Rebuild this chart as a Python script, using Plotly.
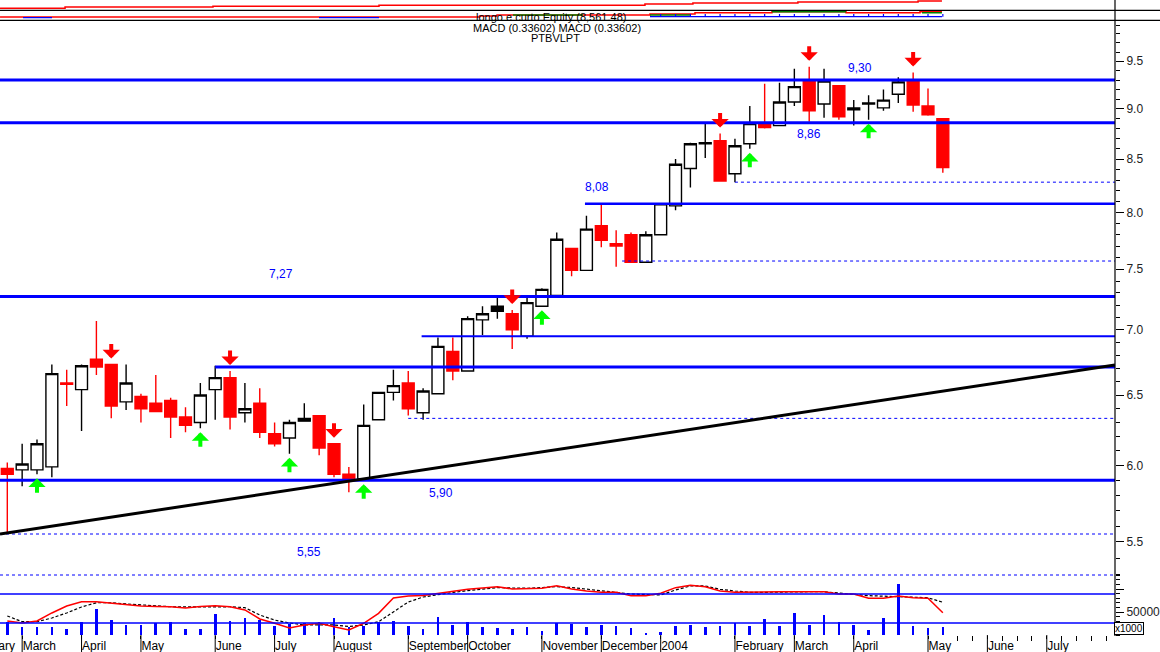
import numpy as np
import plotly.graph_objects as go

# ---------------- DATA ----------------
# weekly bars, week index 0 = week ending 28 Feb 2003 (Fridays)
opens = [5.98, 5.97, 5.97, 5.99, 6.59, 6.54, 6.77, 6.73, 6.45, 6.49,
         6.44, 6.46, 6.34, 6.30, 6.54, 6.63, 6.37, 6.44, 6.22, 6.19,
         6.33, 6.35, 6.15, 5.94, 5.91, 6.32, 6.52, 6.59, 6.37, 6.51,
         6.83, 6.68, 7.08, 7.19, 7.13, 6.95, 7.19, 7.28, 7.68, 7.49,
         7.88, 7.72, 7.80, 7.56, 7.80, 8.06, 8.41, 8.65, 8.68, 8.36,
         8.65, 8.85, 8.83, 9.07, 9.29, 9.05, 9.24, 8.99, 9.06, 9.01,
         9.15, 9.29, 9.03, 8.90]
highs = [6.02, 6.15, 6.18, 6.73, 6.69, 6.73, 7.07, 6.73, 6.73, 6.51,
         6.65, 6.48, 6.41, 6.59, 6.72, 6.68, 6.59, 6.55, 6.30, 6.32,
         6.44, 6.35, 6.15, 5.99, 6.43, 6.52, 6.69, 6.68, 6.55, 6.94,
         6.94, 7.11, 7.19, 7.26, 7.16, 7.26, 7.34, 7.82, 7.68, 7.97,
         8.07, 7.84, 7.82, 7.83, 8.08, 8.50, 8.66, 8.85, 8.75, 8.70,
         9.03, 9.26, 9.27, 9.42, 9.44, 9.42, 9.24, 9.09, 9.14, 9.20,
         9.33, 9.38, 9.21, 8.90]
lows = [5.55, 5.86, 5.94, 5.92, 6.42, 6.24, 6.65, 6.33, 6.39, 6.30,
        6.38, 6.19, 6.23, 6.26, 6.32, 6.25, 6.30, 6.19, 6.13, 6.08,
        6.31, 6.07, 5.92, 5.82, 5.90, 6.32, 6.46, 6.35, 6.32, 6.51,
        6.61, 6.68, 6.96, 7.09, 6.85, 6.93, 7.19, 7.28, 7.44, 7.49,
        7.69, 7.52, 7.56, 7.56, 7.80, 8.02, 8.23, 8.51, 8.29, 8.28,
        8.60, 8.80, 8.83, 9.03, 8.87, 8.91, 8.89, 8.83, 8.89, 8.98,
        9.06, 8.97, 8.93, 8.37]
closes = [5.94, 6.01, 6.15, 6.66, 6.58, 6.72, 6.71, 6.42, 6.59, 6.40,
          6.38, 6.34, 6.28, 6.50, 6.63, 6.34, 6.40, 6.23, 6.15, 6.30,
          6.31, 6.12, 5.94, 5.91, 6.28, 6.52, 6.57, 6.40, 6.53, 6.87,
          6.68, 7.09, 7.13, 7.15, 7.00, 7.22, 7.33, 7.76, 7.49, 7.85,
          7.75, 7.70, 7.56, 7.80, 8.08, 8.45, 8.65, 8.66, 8.29, 8.63,
          8.85, 8.81, 9.07, 9.23, 8.98, 9.29, 8.92, 9.01, 9.05, 9.09,
          9.28, 9.04, 8.94, 8.42]
black_bars = [20, 33, 58]

volume = [28900, 17400, 17400, 17400, 13000, 28900, 56500, 32600, 21700, 21700,
          25400, 27600, 13000, 13000, 45000, 30400, 36300, 32600, 20200, 23900,
          25400, 28900, 36300, 18000, 20200, 27600, 30400, 20200, 13000, 38500,
          21700, 28900, 16700, 14600, 13000, 16700, 9300, 25400, 23300, 16700,
          21700, 19600, 14600, 2200, 7200, 19600, 21700, 18000, 19600, 25400,
          19600, 34100, 20200, 48500, 21700, 43500, 28900, 21700, 10900, 36300,
          110900, 19600, 15900, 18000]
volume_ref = 26000

macd_line = [-0.225, -0.242, -0.225, -0.158, -0.100, -0.064, -0.064, -0.075, -0.088, -0.100,
             -0.104, -0.106, -0.117, -0.104, -0.098, -0.106, -0.133, -0.208, -0.244, -0.283,
             -0.258, -0.244, -0.273, -0.300, -0.244, -0.161, -0.033, -0.017, -0.013, 0.006,
             0.025, 0.039, 0.050, 0.061, 0.042, 0.042, 0.048, 0.069, 0.042, 0.025,
             0.014, 0.014, -0.014, -0.014, 0.006, 0.053, 0.073, 0.061, 0.025, 0.014,
             0.017, 0.019, 0.019, 0.019, 0.019, 0.019, 0.000, 0.000, -0.036, -0.036,
             -0.017, -0.031, -0.036, -0.156]
macd_signal = [-0.183, -0.231, -0.231, -0.200, -0.158, -0.108, -0.073, -0.073, -0.083, -0.092,
               -0.100, -0.106, -0.108, -0.111, -0.108, -0.106, -0.114, -0.175, -0.217, -0.242,
               -0.258, -0.258, -0.258, -0.271, -0.258, -0.231, -0.150, -0.067, -0.025, -0.003,
               0.013, 0.028, 0.042, 0.053, 0.050, 0.048, 0.054, 0.061, 0.054, 0.042,
               0.028, 0.013, 0.000, -0.004, -0.008, 0.033, 0.067, 0.067, 0.039, 0.025,
               0.014, 0.014, 0.017, 0.017, 0.019, 0.019, 0.006, -0.004, -0.014, -0.018,
               -0.022, -0.027, -0.031, -0.069]

sell_signals = [7, 15, 22, 34, 48, 54, 61]
buy_signals = [2, 13, 19, 24, 36, 50, 58]

month_labels = ["March", "April", "May", "June", "July", "August", "September",
                "October", "November", "December", "2004", "February", "March",
                "April", "May", "June", "July"]
month_starts = [1, 5, 9, 14, 18, 22, 27, 31, 36, 40, 44, 49, 53, 57, 62, 66, 70]
prev_month_label = "February"
prev_month_start = -3
future_weeks = [64, 65, 67, 68, 69, 71, 72, 73, 74]

price_ticks = [5.5, 6.0, 6.5, 7.0, 7.5, 8.0, 8.5, 9.0, 9.5]
price_tick_text = ["5.5", "6.0", "6.5", "7.0", "7.5", "8.0", "8.5", "9.0", "9.5"]
price_minor_ticks = [5.3, 5.4, 5.6, 5.7, 5.8, 5.9, 6.1, 6.2, 6.3, 6.4, 6.6, 6.7, 6.8, 6.9,
                     7.1, 7.2, 7.3, 7.4, 7.6, 7.7, 7.8, 7.9, 8.1, 8.2, 8.3, 8.4, 8.6, 8.7,
                     8.8, 8.9, 9.1, 9.2, 9.3, 9.4, 9.6, 9.7, 9.8, 9.9]

solid_levels = [9.30, 8.86, 8.08, 7.27, 6.95, 6.71, 5.90]
solid_level_from = [None, None, 38.9, None, 27.9, 14.0, None]
dashed_levels = [8.28, 7.57, 6.33, 5.55]
dashed_level_from = [49.0, 41.4, 27.0, None]
labelled_levels = [9.30, 8.86, 8.08, 7.27, 5.90, 5.55]
label_weeks = [57.4, 54.0, 39.7, 18.4, 29.2, 20.3]
trend_weeks = [-0.49, 74.59]
trend_prices = [5.55, 6.726]

equity_weeks = [-0.49, 3.89, 13.85, 25.03, 42.94, 46.17, 53.24, 61.33, 62.94]
equity_values = [6882, 7181, 7342, 7595, 7871, 8101, 8331, 8561.48, 8561.48]
mini_red_weeks = [-0.49, 31.8, 32.98, 43.28, 46.31, 51.49, 56.48, 61.46, 62.94]
mini_red_values = [3.3, 4.3, 5.3, 6.3, 7.6, 8.6, 7.6, 8.6, 8.6]
mini_green_segments = [(34.05, 38.77, 5.3), (43.28, 45.97, 5.3), (51.49, 56.48, 8.6), (61.6, 62.94, 7.6)]
mini_blue_segments = [(1.06, 3.01, 2.6), (20.99, 25.03, 2.6), (43.28, 62.94, 3.6)]
mini_blue_ticks = list(range(44, 64))
mini_tick_top = 6.3

# ---------------- STYLE ----------------
BLUE = "#0000ff"
RED = "#ff0000"
GREEN = "#00ff00"
FONT = "Liberation Sans, Arial, sans-serif"
solid_widths = [3, 3, 2.5, 3, 2, 3, 3]
label_dy = [12, -11, 17, 23, -13, -18]
X_RANGE = [-0.4916, 74.593]
W, H = 1160, 652
PLOT_W = 1115


def py(pix):  # pixel row -> paper fraction
    return (H - pix) / H


fig = go.Figure()
idx = list(range(len(opens)))
main = [i for i in idx if i not in black_bars]

fig.add_trace(go.Candlestick(
    x=main, open=[opens[i] for i in main], high=[highs[i] for i in main],
    low=[lows[i] for i in main], close=[closes[i] for i in main],
    increasing=dict(line=dict(color="black", width=1.4), fillcolor="white"),
    decreasing=dict(line=dict(color=RED, width=1.4), fillcolor=RED),
    whiskerwidth=0, xaxis="x", yaxis="y", showlegend=False, hoverinfo="skip"))
fig.add_trace(go.Candlestick(
    x=black_bars, open=[opens[i] for i in black_bars], high=[highs[i] for i in black_bars],
    low=[lows[i] for i in black_bars], close=[closes[i] for i in black_bars],
    increasing=dict(line=dict(color="black", width=1.4), fillcolor="black"),
    decreasing=dict(line=dict(color="black", width=1.4), fillcolor="black"),
    whiskerwidth=0, xaxis="x", yaxis="y", showlegend=False, hoverinfo="skip"))

# support / resistance levels
for lv, start, wd in zip(solid_levels, solid_level_from, solid_widths):
    x0 = X_RANGE[0] if start is None else start
    fig.add_trace(go.Scatter(x=[x0, X_RANGE[1]], y=[lv, lv], mode="lines",
                             line=dict(color=BLUE, width=wd), yaxis="y",
                             showlegend=False, hoverinfo="skip"))
for lv, start in zip(dashed_levels, dashed_level_from):
    x0 = X_RANGE[0] if start is None else start
    fig.add_trace(go.Scatter(x=[x0, X_RANGE[1]], y=[lv, lv], mode="lines",
                             line=dict(color=BLUE, width=1, dash="3px,3px"), yaxis="y",
                             showlegend=False, hoverinfo="skip"))
fig.add_trace(go.Scatter(x=trend_weeks, y=trend_prices, mode="lines",
                         line=dict(color="black", width=3), yaxis="y",
                         showlegend=False, hoverinfo="skip"))

# volume + MACD
fig.add_trace(go.Bar(x=idx, y=volume, width=0.18, marker=dict(color=BLUE, line=dict(width=0)),
                     xaxis="x", yaxis="y3", showlegend=False, hoverinfo="skip"))
fig.add_trace(go.Scatter(x=idx, y=macd_signal, mode="lines",
                         line=dict(color="black", width=1.2, dash="3px,2px"),
                         yaxis="y4", showlegend=False, hoverinfo="skip"))
fig.add_trace(go.Scatter(x=idx, y=macd_line, mode="lines",
                         line=dict(color=RED, width=1.5), yaxis="y4",
                         showlegend=False, hoverinfo="skip"))

# header mini panels
fig.add_trace(go.Scatter(x=equity_weeks, y=equity_values, mode="lines",
                         line=dict(color=RED, width=1.5, shape="hv"), yaxis="y5",
                         showlegend=False, hoverinfo="skip"))
fig.add_trace(go.Scatter(x=mini_red_weeks, y=mini_red_values, mode="lines",
                         line=dict(color=RED, width=1.5, shape="hv"), yaxis="y6",
                         showlegend=False, hoverinfo="skip"))
gx, gy = [], []
for a, b, v in mini_green_segments:
    gx += [a, b, None]
    gy += [v, v, None]
fig.add_trace(go.Scatter(x=gx, y=gy, mode="lines", line=dict(color="#008000", width=1.5),
                         yaxis="y6", showlegend=False, hoverinfo="skip"))
bx, by = [], []
for a, b, v in mini_blue_segments:
    bx += [a, b, None]
    by += [v, v, None]
base = mini_blue_segments[-1][2]
for t in mini_blue_ticks:
    bx += [t, t, None]
    by += [base, mini_tick_top, None]
fig.add_trace(go.Scatter(x=bx, y=by, mode="lines", line=dict(color=BLUE, width=1.2),
                         yaxis="y6", showlegend=False, hoverinfo="skip"))

# ---------------- annotations ----------------
ann = []
for i in sell_signals:
    ann.append(dict(x=i, y=float(np.log10(highs[i])), xref="x", yref="y", text="",
                    showarrow=True, arrowhead=1, arrowsize=0.72, arrowwidth=4,
                    arrowcolor=RED, ax=0, ay=-22, standoff=6))
for i in buy_signals:
    ann.append(dict(x=i, y=float(np.log10(lows[i])), xref="x", yref="y", text="",
                    showarrow=True, arrowhead=1, arrowsize=0.72, arrowwidth=4,
                    arrowcolor=GREEN, ax=0, ay=20, standoff=4))
for lv, wk, dy in zip(labelled_levels, label_weeks, label_dy):
    ann.append(dict(x=wk, y=float(np.log10(lv)), xref="x", yref="y",
                    text=f"{lv:.2f}".replace(".", ","), showarrow=False, yshift=dy,
                    font=dict(color=BLUE, size=12, family=FONT)))
ann.append(dict(x=(prev_month_start - X_RANGE[0]) / (X_RANGE[1] - X_RANGE[0]) + 0.002,
                y=py(646), xref="paper", yref="paper", text=prev_month_label,
                showarrow=False, xanchor="left", yanchor="middle",
                font=dict(size=12, color="black", family=FONT)))
ann.append(dict(x=551 / PLOT_W, y=py(9.5), xref="paper", yref="paper",
                text="longo e curto Equity (8,561.48)", showarrow=False,
                font=dict(size=11, color="black", family=FONT)))
ann.append(dict(x=557 / PLOT_W, y=py(20), xref="paper", yref="paper",
                text="MACD (0.33602) MACD (0.33602)", showarrow=False,
                font=dict(size=11, color="black", family=FONT)))
ann.append(dict(x=555 / PLOT_W, y=py(29.5), xref="paper", yref="paper",
                text="PTBVLPT", showarrow=False,
                font=dict(size=11, color="black", family=FONT)))
ann.append(dict(x=1114 / PLOT_W, y=py(628), xref="paper", yref="paper",
                text="x1000", showarrow=False, xanchor="left", yanchor="middle",
                bordercolor="black", borderwidth=1, borderpad=0, bgcolor="white",
                font=dict(size=10, color="black", family=FONT)))

# ---------------- shapes ----------------
shapes = []
for m in month_starts:
    shapes.append(dict(type="line", xref="x", yref="paper", x0=m, x1=m,
                       y0=0, y1=py(635), line=dict(color="black", width=1)))
shapes.append(dict(type="line", xref="paper", yref="y4", x0=0, x1=1, y0=0, y1=0,
                   line=dict(color=BLUE, width=1.5)))
shapes.append(dict(type="line", xref="paper", yref="y3", x0=0, x1=1, y0=volume_ref, y1=volume_ref,
                   line=dict(color=BLUE, width=1.5)))
shapes.append(dict(type="line", xref="paper", yref="paper", x0=0, x1=1, y0=py(575), y1=py(575),
                   line=dict(color=BLUE, width=1, dash="3px,3px")))
shapes.append(dict(type="line", xref="paper", yref="paper", x0=1, x1=1, y0=py(636), y1=1,
                   line=dict(color="black", width=1.2)))
for yy in (10.3, 20.3):
    shapes.append(dict(type="line", xref="paper", yref="paper", x0=0, x1=W / PLOT_W,
                       y0=py(yy), y1=py(yy), line=dict(color="black", width=1.2)))

p_top = 9.30 * np.exp((80 - 20) / 879.5)
p_bot = 9.30 * np.exp((80 - 575) / 879.5)

fig.update_layout(
    width=W, height=H, margin=dict(l=0, r=W - PLOT_W, t=0, b=0, pad=0, autoexpand=False),
    paper_bgcolor="white", plot_bgcolor="white", showlegend=False,
    font=dict(family=FONT, size=12, color="black"),
    boxgap=0.2, boxgroupgap=0, bargap=0,
    xaxis=dict(domain=[0, 1], range=X_RANGE, anchor="y3", showgrid=False, zeroline=False,
               showline=False, rangeslider=dict(visible=False), automargin=False,
               tickmode="array", tickvals=month_starts, ticktext=month_labels,
               ticks="outside", ticklen=3, tickcolor="black", tickangle=0,
               ticklabelposition="outside right", ticklabeloverflow="allow",
               tickfont=dict(size=12, color="black", family=FONT),
               minor=dict(tickmode="array", tickvals=future_weeks, ticks="outside",
                          ticklen=5, tickcolor="black")),
    yaxis=dict(type="log", domain=[py(575), py(20)],
               range=[float(np.log10(p_bot)), float(np.log10(p_top))],
               side="right", anchor="x", showgrid=False, zeroline=False, showline=False,
               automargin=False,
               tickmode="array", tickvals=price_ticks, ticktext=price_tick_text,
               ticks="outside", ticklen=8, tickcolor="black",
               tickfont=dict(size=12, color="#222222", family=FONT),
               minor=dict(tickmode="array", tickvals=price_minor_ticks, ticks="outside",
                          ticklen=4, tickcolor="black")),
    yaxis3=dict(domain=[py(635), py(575)], range=[0, 130435], side="right", anchor="x",
                showgrid=False, zeroline=False, showline=False, automargin=False,
                tickmode="array", tickvals=[50000, 100000], ticktext=["50000", ""],
                ticks="outside", ticklen=8, tickcolor="black",
                tickfont=dict(size=12, color="#222222", family=FONT),
                minor=dict(dtick=10000, ticks="outside", ticklen=4, tickcolor="black")),
    yaxis4=dict(domain=[py(635), py(575)], range=[-0.3417, 0.1583], overlaying="y3",
                visible=False, automargin=False),
    yaxis5=dict(domain=[py(10.3), 1], range=[6422.5, 8791.5], anchor="x", visible=False,
                automargin=False),
    yaxis6=dict(domain=[py(20.3), py(10.3)], range=[0, 10], anchor="x", visible=False,
                automargin=False),
    annotations=ann, shapes=shapes,
)

fig.write_html("out.html", config={"displayModeBar": False},
               post_script="document.body.style.margin='0';document.body.style.padding='0';")
